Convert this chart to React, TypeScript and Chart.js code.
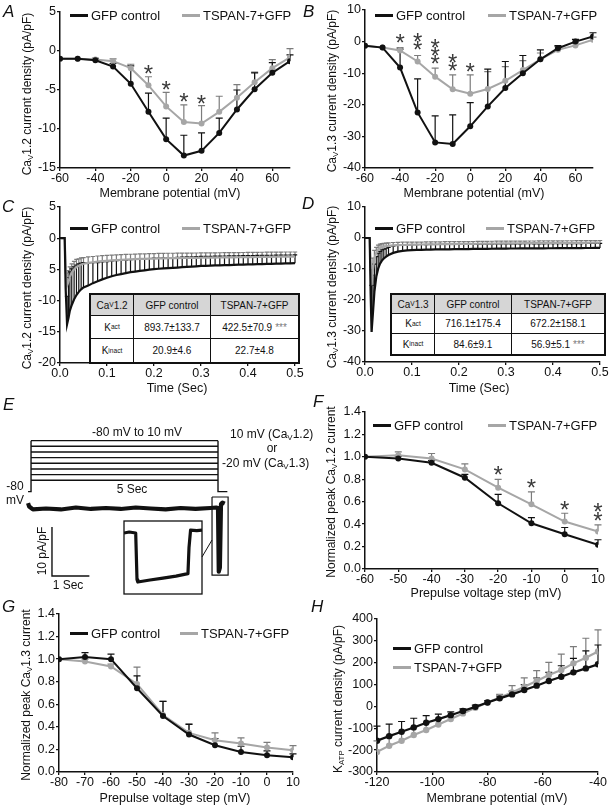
import React, { useEffect, useRef } from 'react';
import { Chart, registerables } from 'chart.js';

Chart.register(...registerables);

const FONT = '"Liberation Sans", Arial, Helvetica, sans-serif';
const INK = '#111111';
const GRAY = '#a6a6a6';
const GRAY_BAR = '#7c7c7c';
const STAR = '#3a3a3a';
const GFP_LABEL = 'GFP control';
const TSPAN_LABEL = 'TSPAN-7+GFP';

// ---------------- Panel A : CaV1.2 I-V ----------------
const A_MV = [-60, -50, -40, -30, -20, -10, 0, 10, 20, 30, 40, 50, 60, 70];
const A_GFP = [-1.0, -1.0, -1.2, -2.0, -4.2, -7.8, -11.3, -13.4, -12.8, -10.5, -7.5, -4.9, -2.8, -1.3];
const A_GFP_SEM = [0, 0, 0.2, 0.4, 2.3, 2.4, 2.7, 2.6, 2.3, 1.9, 2.5, 2.1, 1.3, 0.8];
const A_TSPAN = [-1.0, -1.0, -1.1, -1.3, -2.2, -4.4, -7.1, -9.1, -9.3, -7.8, -6.0, -4.0, -2.2, -0.8];
const A_TSPAN_SEM = [0, 0, 0.2, 0.3, 0.5, 1.1, 1.8, 2.2, 2.3, 2.0, 1.7, 1.3, 1.1, 1.1];
const A_X_TICKS = [-60, -40, -20, 0, 20, 40, 60];
const A_Y_TICKS = [5, 0, -5, -10, -15];
const A_STAR_MV = [-10, 0, 10, 20];
const A_STAR_Y = [-2.3, -4.4, -5.9, -6.2];
const A_STAR_N = [1, 1, 1, 1];

// ---------------- Panel B : CaV1.3 I-V ----------------
const B_MV = [-60, -50, -40, -30, -20, -10, 0, 10, 20, 30, 40, 50, 60, 70];
const B_GFP = [-1.3, -1.9, -8.2, -22.4, -31.9, -32.4, -26.8, -20.5, -14.7, -10.0, -5.6, -2.1, 0.0, 1.6];
const B_GFP_SEM = [0, 0, 5.8, 10.6, 8.4, 9.2, 7.5, 11.8, 8.4, 5.6, 3.0, 0.8, 0.7, 1.2];
const B_TSPAN = [-1.3, -1.9, -2.8, -6.3, -11.1, -15.1, -16.5, -15.0, -12.4, -9.0, -5.6, -2.6, -1.2, 0.6];
const B_TSPAN_SEM = [0, 0, 0.9, 1.9, 2.7, 4.6, 6.0, 5.5, 4.5, 3.0, 2.0, 1.0, 0.8, 0.8];
const B_X_TICKS = [-60, -40, -20, 0, 20, 40, 60];
const B_Y_TICKS = [10, 0, -10, -20, -30, -40];
const B_STAR_MV = [-40, -30, -20, -10, 0];
const B_STAR_Y = [1.05, -1.05, -5.6, -7.7, -7.9];
const B_STAR_N = [1, 2, 3, 2, 1];

// ---------------- Panel C : CaV1.2 current time course ----------------
const C_T = [0, 0.005, 0.01, 0.012, 0.015, 0.018, 0.021, 0.025, 0.03, 0.035, 0.04, 0.045, 0.05,
  0.06, 0.07, 0.08, 0.09, 0.1, 0.11, 0.12, 0.13, 0.14, 0.15, 0.16, 0.17, 0.18, 0.19, 0.2,
  0.21, 0.22, 0.23, 0.24, 0.25, 0.26, 0.27, 0.28, 0.29, 0.3, 0.31, 0.32, 0.33, 0.34, 0.35,
  0.36, 0.37, 0.38, 0.39, 0.4, 0.41, 0.42, 0.43, 0.44, 0.45, 0.46, 0.47, 0.48, 0.49, 0.5];
const C_GFP = [0, 0, 0, -8, -13.8, -12.8, -11.6, -10.7, -9.8, -9.1, -8.6, -8.2, -7.9,
  -7.6, -7.2, -6.9, -6.6, -6.35, -6.1, -5.9, -5.75, -5.6, -5.45, -5.35, -5.25, -5.15, -5.05, -4.95,
  -4.9, -4.85, -4.8, -4.75, -4.7, -4.65, -4.6, -4.55, -4.5, -4.45, -4.42, -4.4, -4.37, -4.35, -4.32,
  -4.3, -4.27, -4.25, -4.22, -4.2, -4.18, -4.16, -4.14, -4.12, -4.1, -4.08, -4.06, -4.04, -4.02, -4.0];
const C_GFP_SEM = [0, 0, 0, 0, 4.5, 6.5, 6.2, 5.8, 5.2, 4.8, 4.5, 4.2, 4.0,
  3.6, 3.3, 3.0, 2.8, 2.6, 2.45, 2.3, 2.2, 2.1, 2.0, 1.95, 1.9, 1.85, 1.8, 1.75,
  1.72, 1.7, 1.68, 1.66, 1.64, 1.62, 1.6, 1.58, 1.56, 1.54, 1.52, 1.5, 1.49, 1.48, 1.47,
  1.46, 1.45, 1.44, 1.43, 1.42, 1.41, 1.4, 1.39, 1.38, 1.37, 1.36, 1.35, 1.34, 1.33, 1.32];
const C_TSPAN = [0, 0, 0, -5, -7.6, -7.0, -6.2, -5.5, -5.0, -4.6, -4.4, -4.2, -4.1,
  -3.95, -3.85, -3.75, -3.68, -3.62, -3.56, -3.5, -3.46, -3.42, -3.38, -3.35, -3.32, -3.3, -3.28, -3.26,
  -3.24, -3.22, -3.2, -3.19, -3.18, -3.17, -3.16, -3.15, -3.14, -3.13, -3.12, -3.11, -3.1, -3.09, -3.08,
  -3.07, -3.06, -3.05, -3.04, -3.03, -3.02, -3.01, -3.0, -2.99, -2.98, -2.97, -2.96, -2.95, -2.95, -2.95];
const C_TSPAN_SEM = [0, 0, 0, 0, 2.0, 1.8, 1.6, 1.4, 1.3, 1.2, 1.1, 1.05, 1.0,
  0.95, 0.92, 0.9, 0.88, 0.86, 0.85, 0.84, 0.83, 0.82, 0.81, 0.8, 0.8, 0.8, 0.8, 0.8,
  0.8, 0.79, 0.79, 0.78, 0.78, 0.77, 0.77, 0.77, 0.77, 0.77, 0.76, 0.76, 0.76, 0.76, 0.76,
  0.75, 0.75, 0.75, 0.75, 0.75, 0.75, 0.75, 0.75, 0.75, 0.75, 0.74, 0.74, 0.74, 0.74, 0.74];
const C_X_TICKS = [0, 0.1, 0.2, 0.3, 0.4, 0.5];
const C_Y_TICKS = [5, 0, -5, -10, -15, -20];
const C_TABLE = [
  ['Ca|V|1.2', 'GFP control', 'TSPAN-7+GFP'],
  ['K|act|', '893.7±133.7', '422.5±70.9 ***'],
  ['K|inact|', '20.9±4.6', '22.7±4.8'],
];

// ---------------- Panel D : CaV1.3 current time course ----------------
const D_T = [0, 0.005, 0.01, 0.012, 0.014, 0.017, 0.02, 0.024, 0.028, 0.032, 0.036, 0.04, 0.045, 0.05,
  0.06, 0.07, 0.08, 0.09, 0.1, 0.11, 0.12, 0.13, 0.14, 0.15, 0.16, 0.17, 0.18, 0.19, 0.2,
  0.21, 0.22, 0.23, 0.24, 0.25, 0.26, 0.27, 0.28, 0.29, 0.3, 0.31, 0.32, 0.33, 0.34, 0.35,
  0.36, 0.37, 0.38, 0.39, 0.4, 0.41, 0.42, 0.43, 0.44, 0.45, 0.46, 0.47, 0.48, 0.49, 0.5];
const D_GFP = [0, 0, 0, -18, -30.3, -24, -17.4, -12.5, -9.9, -8.3, -7.3, -6.6, -6.0, -5.5,
  -4.8, -4.4, -4.15, -4.0, -3.9, -3.85, -3.8, -3.76, -3.72, -3.7, -3.68, -3.66, -3.64, -3.62, -3.6,
  -3.58, -3.56, -3.54, -3.52, -3.5, -3.48, -3.46, -3.44, -3.42, -3.4, -3.39, -3.38, -3.37, -3.36, -3.35,
  -3.34, -3.33, -3.32, -3.31, -3.3, -3.29, -3.28, -3.27, -3.26, -3.25, -3.24, -3.23, -3.22, -3.21, -3.2];
const D_GFP_SEM = [0, 0, 0, 0, 15, 12, 9, 6.5, 5, 4, 3.5, 3, 2.7, 2.5,
  2.2, 2.0, 1.9, 1.8, 1.75, 1.7, 1.7, 1.65, 1.65, 1.6, 1.6, 1.6, 1.55, 1.55, 1.55,
  1.5, 1.5, 1.5, 1.5, 1.5, 1.5, 1.5, 1.5, 1.5, 1.5, 1.5, 1.5, 1.5, 1.5, 1.5,
  1.45, 1.45, 1.45, 1.45, 1.45, 1.45, 1.45, 1.45, 1.45, 1.45, 1.45, 1.45, 1.45, 1.45, 1.45];
const D_TSPAN = [0, 0, 0, -10, -15.3, -10, -6.5, -4.8, -3.8, -3.3, -3.0, -2.8, -2.65, -2.55,
  -2.4, -2.3, -2.25, -2.2, -2.15, -2.12, -2.1, -2.08, -2.06, -2.04, -2.02, -2.0, -1.98, -1.96, -1.94,
  -1.92, -1.9, -1.88, -1.86, -1.84, -1.82, -1.8, -1.78, -1.76, -1.74, -1.72, -1.7, -1.69, -1.68, -1.67,
  -1.66, -1.65, -1.64, -1.63, -1.62, -1.61, -1.6, -1.59, -1.58, -1.57, -1.56, -1.55, -1.54, -1.52, -1.5];
const D_TSPAN_SEM = [0, 0, 0, 0, 5, 3.5, 2.5, 1.8, 1.5, 1.3, 1.2, 1.1, 1.0, 1.0,
  0.95, 0.9, 0.9, 0.85, 0.85, 0.8, 0.8, 0.8, 0.8, 0.8, 0.8, 0.8, 0.8, 0.8, 0.8,
  0.75, 0.75, 0.75, 0.75, 0.75, 0.75, 0.75, 0.75, 0.75, 0.75, 0.7, 0.7, 0.7, 0.7, 0.7,
  0.7, 0.7, 0.7, 0.7, 0.7, 0.7, 0.7, 0.7, 0.7, 0.7, 0.7, 0.7, 0.7, 0.7, 0.7];
const D_X_TICKS = [0, 0.1, 0.2, 0.3, 0.4, 0.5];
const D_Y_TICKS = [10, 0, -10, -20, -30, -40];
const D_TABLE = [
  ['Ca|V|1.3', 'GFP control', 'TSPAN-7+GFP'],
  ['K|act|', '716.1±175.4', '672.2±158.1'],
  ['K|inact|', '84.6±9.1', '56.9±5.1 ***'],
];

// ---------------- Panel E : protocol schematic ----------------
const E_PREPULSE_MV = [10, 0, -10, -20, -30, -40, -50, -60];
const E_HOLD_MV = -80;
const E_PREPULSE_S = 5;
const E_HOLD_LEAD_S = -0.08;
const E_TAIL_END_S = 5.25;
const E_TRACE_S = [-0.08, -0.05, 0.05, 0.4, 0.8, 1.2, 1.6, 2.0, 2.4, 2.8, 3.2, 3.6, 4.0, 4.4, 4.8, 4.95, 5.0, 5.02, 5.05, 5.08, 5.12, 5.18];
const E_TRACE_I = [1.0, 0.3, -0.3, -0.1, -0.3, 0.1, -0.2, 0.0, -0.2, 0.1, -0.1, -0.3, 0.0, -0.2, 0.0, 0.1, 0.0, -13.0, -12.2, 0.8, 1.1, 0.9];
const E_ZOOM_BOX_S = [4.84, 5.27];
const E_ZOOM_BOX_I = [2.24, -13.7];
const E_POINTER_S = [4.572, 4.84];
const E_POINTER_I = [-10.0, -6.53];
const E_SCALEBAR_S = [0.56, 0.56, 1.56];
const E_SCALEBAR_I = [-3.88, -13.88, -13.88];
const E_INSET_MS = [-50, -30, -5, 0, 3, 50, 100, 150, 196, 200, 206, 230, 250];
const E_INSET_I = [0, 0.2, 0, -9.5, -10, -9.6, -9.2, -8.8, -8.3, -3, 0.6, 0.5, 0.6];

// ---------------- Panel F : CaV1.2 inactivation ----------------
const F_MV = [-60, -50, -40, -30, -20, -10, 0, 10];
const F_GFP = [1.0, 0.985, 0.947, 0.814, 0.586, 0.408, 0.31, 0.216];
const F_GFP_SEM = [0, 0.02, 0.02, 0.03, 0.08, 0.05, 0.06, 0.045];
const F_TSPAN = [1.0, 1.015, 0.985, 0.888, 0.725, 0.577, 0.423, 0.334];
const F_TSPAN_SEM = [0, 0.03, 0.045, 0.05, 0.075, 0.11, 0.074, 0.06];
const F_X_TICKS = [-60, -50, -40, -30, -20, -10, 0, 10];
const F_Y_TICKS = [0, 0.2, 0.4, 0.6, 0.8, 1.0, 1.2, 1.4];
const F_STAR_MV = [-20, -10, 0, 10];
const F_STAR_Y = [0.882, 0.764, 0.571, 0.476];
const F_STAR_N = [1, 1, 1, 2];

// ---------------- Panel G : CaV1.3 inactivation ----------------
const G_MV = [-80, -70, -60, -50, -40, -30, -20, -10, 0, 10];
const G_GFP = [1.0, 1.018, 1.0, 0.742, 0.496, 0.332, 0.237, 0.178, 0.148, 0.131];
const G_GFP_SEM = [0, 0.04, 0.045, 0.11, 0.13, 0.09, 0.06, 0.05, 0.04, 0.03];
const G_TSPAN = [1.0, 0.98, 0.935, 0.78, 0.505, 0.347, 0.282, 0.252, 0.217, 0.193];
const G_TSPAN_SEM = [0, 0.02, 0.02, 0.15, 0.12, 0.08, 0.065, 0.05, 0.045, 0.04];
const G_X_TICKS = [-80, -70, -60, -50, -40, -30, -20, -10, 0, 10];
const G_Y_TICKS = [0, 0.2, 0.4, 0.6, 0.8, 1.0, 1.2, 1.4];

// ---------------- Panel H : KATP I-V ----------------
const H_MV = [-120, -115.6, -111.1, -106.7, -102.2, -97.8, -93.3, -88.9, -84.4, -80, -75.6, -71.1, -66.7, -62.2, -57.8, -53.3, -48.9, -44.4, -40];
const H_GFP = [-157, -136, -116, -96, -75, -58, -40, -21, -2, 18, 37, 55, 75, 95, 116, 136, 156, 174, 193];
const H_GFP_SEM = [67, 55, 47, 42, 33, 23, 15, 10, 8, 8, 10, 15, 25, 35, 40, 50, 64, 80, 88];
const H_TSPAN = [-208, -180, -157, -131, -108, -83, -58, -32, -6, 18, 41, 64, 90, 116, 144, 167, 197, 223, 251];
const H_TSPAN_SEM = [50, 45, 40, 35, 30, 25, 18, 12, 8, 8, 14, 31, 41, 48, 58, 72, 77, 89, 99];
const H_X_TICKS = [-120, -100, -80, -60, -40];
const H_Y_TICKS = [-300, -200, -100, 0, 100, 200, 300, 400];

// ---------------- helpers ----------------
const fmtInt = (v: number) => String(Math.round(v));
const fmt1 = (v: number) => v.toFixed(1);
const fmtC = (v: number) => (Math.round(v) === -5 ? '5' : String(Math.round(v)));

type Series = { x: number[]; y: number[]; err: number[]; color: string; bar: string; radius: number; width: number };
type Spec = {
  area: { l: number; r: number; t: number; b: number };
  x: { min: number; max: number; ticks: number[]; fmt: (v: number) => string };
  y: { min: number; max: number; ticks: number[]; fmt: (v: number) => string };
  series: Series[];
  stars?: { x: number[]; y: number[]; n: number[] };
  cap: number;
};

const M = { l: 46, t: 12, r: 16, b: 22 };

function pair(gx: number[], gy: number[], gErr: number[], tx: number[], ty: number[], tErr: number[], radius: number, width: number): Series[] {
  return [
    { x: gx, y: gy, err: gErr, color: INK, bar: INK, radius, width },
    { x: tx, y: ty, err: tErr, color: GRAY, bar: GRAY_BAR, radius, width },
  ];
}

function XYChart({ spec }: { spec: Spec }) {
  const ref = useRef<HTMLCanvasElement | null>(null);
  const W = spec.area.r - spec.area.l + M.l + M.r;
  const H = spec.area.b - spec.area.t + M.t + M.b;
  useEffect(() => {
    const canvas = ref.current;
    if (!canvas) return;
    const tickFont = { family: FONT, size: 12.5 };
    const axis = (a: Spec['x'], isX: boolean) => ({
      type: 'linear',
      min: a.min,
      max: a.max,
      afterBuildTicks: (s: any) => { s.ticks = a.ticks.map((v) => ({ value: v })); },
      ticks: {
        callback: (v: any) => a.fmt(Number(v)),
        font: tickFont,
        color: INK,
        padding: isX ? 0 : 1,
        autoSkip: false,
        maxRotation: 0,
        minRotation: 0,
      },
      grid: { drawOnChartArea: false, drawTicks: true, tickLength: 3, color: INK, lineWidth: 1.3 },
      border: { display: true, color: INK, width: 1.5 },
      afterFit: (s: any) => { if (isX) s.height = M.b; else s.width = M.l; },
    });
    const errPlugin = {
      id: 'errbars',
      beforeDatasetsDraw(chart: any) {
        const { ctx } = chart;
        const xs = chart.scales.x;
        const ys = chart.scales.y;
        ctx.save();
        ctx.lineWidth = 1.2;
        spec.series.slice().reverse().forEach((s) => {
          ctx.strokeStyle = s.bar;
          s.x.forEach((xv, i) => {
            const e = s.err[i];
            if (!e) return;
            const px = xs.getPixelForValue(xv);
            const p0 = ys.getPixelForValue(s.y[i]);
            const p1 = ys.getPixelForValue(s.y[i] + e);
            ctx.beginPath();
            ctx.moveTo(px, p0);
            ctx.lineTo(px, p1);
            ctx.moveTo(px - spec.cap, p1);
            ctx.lineTo(px + spec.cap, p1);
            ctx.stroke();
          });
        });
        ctx.restore();
      },
    };
    const starPlugin = {
      id: 'stars',
      afterDatasetsDraw(chart: any) {
        if (!spec.stars) return;
        const { ctx } = chart;
        const xs = chart.scales.x;
        const ys = chart.scales.y;
        ctx.save();
        ctx.fillStyle = STAR;
        ctx.font = `24px ${FONT}`;
        ctx.textAlign = 'center';
        ctx.textBaseline = 'alphabetic';
        spec.stars.x.forEach((xv, i) => {
          const px = xs.getPixelForValue(xv);
          const py = ys.getPixelForValue(spec.stars!.y[i]);
          for (let k = 0; k < spec.stars!.n[i]; k++) {
            ctx.fillText('*', px, py - k * 8.3 + 13);
          }
        });
        ctx.restore();
      },
    };
    const chart = new Chart(canvas, {
      type: 'line',
      data: {
        datasets: spec.series.map((s) => ({
          data: s.x.map((xv, i) => ({ x: xv, y: s.y[i] })),
          borderColor: s.color,
          backgroundColor: s.color,
          borderWidth: s.width,
          pointRadius: s.radius,
          pointHoverRadius: s.radius,
          pointBackgroundColor: s.color,
          pointBorderWidth: 0,
          tension: 0,
          fill: false,
        })),
      },
      options: {
        responsive: false,
        animation: false,
        devicePixelRatio: 1,
        events: [],
        layout: { padding: { left: 0, top: M.t, right: M.r, bottom: 0 } },
        plugins: { legend: { display: false }, tooltip: { enabled: false } },
        scales: { x: axis(spec.x, true) as any, y: axis(spec.y, false) as any },
      },
      plugins: [errPlugin, starPlugin],
    });
    return () => chart.destroy();
  }, [spec]);
  return (
    <canvas
      ref={ref}
      width={W}
      height={H}
      style={{ position: 'absolute', left: spec.area.l - M.l, top: spec.area.t - M.t, width: W, height: H }}
    />
  );
}

function EMainChart() {
  const ref = useRef<HTMLCanvasElement | null>(null);
  useEffect(() => {
    const canvas = ref.current;
    if (!canvas) return;
    const proto: any[] = [];
    E_PREPULSE_MV.forEach((v) => {
      proto.push({ x: 0, y: v }, { x: E_PREPULSE_S, y: v }, { x: E_PREPULSE_S, y: null });
    });
    proto.push({ x: E_HOLD_LEAD_S, y: E_HOLD_MV }, { x: 0, y: E_HOLD_MV }, { x: 0, y: E_PREPULSE_MV[0] }, { x: 0, y: null });
    proto.push({ x: E_PREPULSE_S, y: E_PREPULSE_MV[0] }, { x: E_PREPULSE_S, y: E_HOLD_MV }, { x: E_TAIL_END_S, y: E_HOLD_MV });
    const trace = E_TRACE_S.map((t, i) => ({ x: t, y: E_TRACE_I[i] }));
    const box = [
      { x: E_ZOOM_BOX_S[0], y: E_ZOOM_BOX_I[0] },
      { x: E_ZOOM_BOX_S[1], y: E_ZOOM_BOX_I[0] },
      { x: E_ZOOM_BOX_S[1], y: E_ZOOM_BOX_I[1] },
      { x: E_ZOOM_BOX_S[0], y: E_ZOOM_BOX_I[1] },
      { x: E_ZOOM_BOX_S[0], y: E_ZOOM_BOX_I[0] },
    ];
    const pointer = E_POINTER_S.map((t, i) => ({ x: t, y: E_POINTER_I[i] }));
    const bar = E_SCALEBAR_S.map((t, i) => ({ x: t, y: E_SCALEBAR_I[i] }));
    const thin = (data: any[], axisId: string, w: number) => ({
      data,
      yAxisID: axisId,
      borderColor: INK,
      borderWidth: w,
      pointRadius: 0,
      tension: 0,
      fill: false,
      spanGaps: false,
      borderJoinStyle: 'miter',
    });
    const chart = new Chart(canvas, {
      type: 'line',
      data: {
        datasets: [
          thin(proto, 'yv', 1.4),
          { ...thin(trace, 'yi', 4.2), borderJoinStyle: 'round' },
          thin(box, 'yi', 1.2),
          thin(pointer, 'yi', 1.0),
          thin(bar, 'yi', 1.4),
        ] as any,
      },
      options: {
        responsive: false,
        animation: false,
        devicePixelRatio: 1,
        events: [],
        layout: { padding: 0 },
        plugins: { legend: { display: false }, tooltip: { enabled: false } },
        scales: {
          x: { type: 'linear', display: false, min: -0.83, max: 7.46 },
          yv: { type: 'linear', display: false, min: -280, max: 81.7 },
          yi: { type: 'linear', display: false, min: -19.8, max: 22.04 },
        } as any,
      },
    });
    return () => chart.destroy();
  }, []);
  return <canvas ref={ref} width={310} height={205} style={{ position: 'absolute', left: 0, top: 400, width: 310, height: 205 }} />;
}

function EInsetChart() {
  const ref = useRef<HTMLCanvasElement | null>(null);
  useEffect(() => {
    const canvas = ref.current;
    if (!canvas) return;
    const framePlugin = {
      id: 'frame',
      afterDraw(chart: any) {
        const { ctx, chartArea: a } = chart;
        ctx.save();
        ctx.strokeStyle = INK;
        ctx.lineWidth = 1.3;
        ctx.strokeRect(a.left, a.top, a.right - a.left, a.bottom - a.top);
        ctx.restore();
      },
    };
    const chart = new Chart(canvas, {
      type: 'line',
      data: {
        datasets: [{
          data: E_INSET_MS.map((t, i) => ({ x: t, y: E_INSET_I[i] })),
          borderColor: INK,
          borderWidth: 3.2,
          pointRadius: 0,
          tension: 0,
          fill: false,
          borderJoinStyle: 'round',
        }] as any,
      },
      options: {
        responsive: false,
        animation: false,
        devicePixelRatio: 1,
        events: [],
        layout: { padding: 3 },
        plugins: { legend: { display: false }, tooltip: { enabled: false } },
        scales: {
          x: { type: 'linear', display: false, min: -50, max: 250 },
          y: { type: 'linear', display: false, min: -12.45, max: 2.45 },
        } as any,
      },
      plugins: [framePlugin],
    });
    return () => chart.destroy();
  }, []);
  return <canvas ref={ref} width={84} height={79} style={{ position: 'absolute', left: 121, top: 518, width: 84, height: 79 }} />;
}

// ---------------- text helpers ----------------
const Sub = ({ c }: { c: string }) => (
  <sub style={{ fontSize: '0.66em', verticalAlign: '-0.3em', lineHeight: 0 }}>{c}</sub>
);

function rich(s: string) {
  // "Ca|V|1.2" -> Ca<sub>V</sub>1.2
  const parts = s.split('|');
  return parts.map((p, i) => (i % 2 === 1 ? <Sub key={i} c={p} /> : <React.Fragment key={i}>{p}</React.Fragment>));
}

function Txt({ x, y, children, align = 'center', size = 12.5, rotate = false, italic = false, color = INK }: any) {
  const tx = align === 'center' ? '-50%' : align === 'right' ? '-100%' : '0';
  return (
    <div
      style={{
        position: 'absolute',
        left: x,
        top: y,
        whiteSpace: 'nowrap',
        fontSize: size,
        lineHeight: 1,
        fontStyle: italic ? 'italic' : 'normal',
        color,
        transform: rotate ? 'translate(-50%,-50%) rotate(-90deg)' : `translate(${tx},-50%)`,
      }}
    >
      {children}
    </div>
  );
}

function Legend({ items }: { items: { x: number; y: number; color: string; text: string }[] }) {
  return (
    <>
      {items.map((it, i) => (
        <React.Fragment key={i}>
          <div style={{ position: 'absolute', left: it.x, top: it.y - 1.5, width: 18, height: 3, background: it.color }} />
          <Txt x={it.x + 21} y={it.y} align="left" size={13}>{it.text}</Txt>
        </React.Fragment>
      ))}
    </>
  );
}

function ParamTable({ x, y, cols, rows, cells }: { x: number; y: number; cols: number[]; rows: number[]; cells: string[][] }) {
  return (
    <div
      style={{
        position: 'absolute',
        left: x,
        top: y,
        display: 'grid',
        gridTemplateColumns: cols.map((c) => `${c}px`).join(' '),
        gridTemplateRows: rows.map((r) => `${r}px`).join(' '),
        border: `2px solid ${INK}`,
        background: '#fff',
        fontSize: 10,
        boxSizing: 'content-box',
        color: INK,
      }}
    >
      {cells.map((row, ri) =>
        row.map((cell, ci) => {
          const stars = cell.endsWith(' ***');
          const main = stars ? cell.slice(0, -4) : cell;
          return (
            <div
              key={`${ri}-${ci}`}
              style={{
                boxSizing: 'border-box',
                borderRight: ci < row.length - 1 ? `1.5px solid ${INK}` : 'none',
                borderBottom: ri < cells.length - 1 ? `1.5px solid ${INK}` : 'none',
                background: ri === 0 ? '#d6d6d6' : '#fff',
                display: 'flex',
                alignItems: 'center',
                justifyContent: 'center',
                whiteSpace: 'nowrap',
              }}
            >
              {rich(main)}
              {stars ? <span style={{ color: '#7a7a7a', marginLeft: 3 }}>***</span> : null}
            </div>
          );
        })
      )}
    </div>
  );
}

// ---------------- specs ----------------
const SPEC_A: Spec = {
  area: { l: 60, r: 290, t: 12, b: 168 },
  x: { min: -60, max: 70, ticks: A_X_TICKS, fmt: fmtInt },
  y: { min: -15, max: 5, ticks: A_Y_TICKS, fmt: fmtInt },
  series: pair(A_MV, A_GFP, A_GFP_SEM, A_MV, A_TSPAN, A_TSPAN_SEM, 3, 2),
  stars: { x: A_STAR_MV, y: A_STAR_Y, n: A_STAR_N },
  cap: 3.5,
};
const SPEC_B: Spec = {
  area: { l: 365, r: 593, t: 10, b: 168 },
  x: { min: -60, max: 70, ticks: B_X_TICKS, fmt: fmtInt },
  y: { min: -40, max: 10, ticks: B_Y_TICKS, fmt: fmtInt },
  series: pair(B_MV, B_GFP, B_GFP_SEM, B_MV, B_TSPAN, B_TSPAN_SEM, 3, 2),
  stars: { x: B_STAR_MV, y: B_STAR_Y, n: B_STAR_N },
  cap: 3.5,
};
const SPEC_C: Spec = {
  area: { l: 60, r: 295, t: 207, b: 363 },
  x: { min: 0, max: 0.5, ticks: C_X_TICKS, fmt: fmt1 },
  y: { min: -20, max: 5, ticks: C_Y_TICKS, fmt: fmtC },
  series: pair(C_T, C_GFP, C_GFP_SEM, C_T, C_TSPAN, C_TSPAN_SEM, 0, 2.2),
  cap: 2.2,
};
const SPEC_D: Spec = {
  area: { l: 365, r: 600, t: 207, b: 362 },
  x: { min: 0, max: 0.5, ticks: D_X_TICKS, fmt: fmt1 },
  y: { min: -40, max: 10, ticks: D_Y_TICKS, fmt: fmtInt },
  series: pair(D_T, D_GFP, D_GFP_SEM, D_T, D_TSPAN, D_TSPAN_SEM, 0, 2.2),
  cap: 2.2,
};
const SPEC_F: Spec = {
  area: { l: 365, r: 598, t: 412, b: 569 },
  x: { min: -60, max: 10, ticks: F_X_TICKS, fmt: fmtInt },
  y: { min: 0, max: 1.4, ticks: F_Y_TICKS, fmt: fmt1 },
  series: pair(F_MV, F_GFP, F_GFP_SEM, F_MV, F_TSPAN, F_TSPAN_SEM, 3, 2),
  stars: { x: F_STAR_MV, y: F_STAR_Y, n: F_STAR_N },
  cap: 3.5,
};
const SPEC_G: Spec = {
  area: { l: 59, r: 293, t: 614, b: 772 },
  x: { min: -80, max: 10, ticks: G_X_TICKS, fmt: fmtInt },
  y: { min: 0, max: 1.4, ticks: G_Y_TICKS, fmt: fmt1 },
  series: pair(G_MV, G_GFP, G_GFP_SEM, G_MV, G_TSPAN, G_TSPAN_SEM, 3, 2),
  cap: 3.5,
};
const SPEC_H: Spec = {
  area: { l: 377, r: 598, t: 619, b: 772 },
  x: { min: -120, max: -40, ticks: H_X_TICKS, fmt: fmtInt },
  y: { min: -300, max: 400, ticks: H_Y_TICKS, fmt: fmtInt },
  series: pair(H_MV, H_GFP, H_GFP_SEM, H_MV, H_TSPAN, H_TSPAN_SEM, 3.2, 2.2),
  cap: 3.5,
};

const legendPair = (bx: number, gx: number, y: number, gy?: number) => [
  { x: bx, y, color: INK, text: GFP_LABEL },
  { x: gx, y: gy === undefined ? y : gy, color: GRAY, text: TSPAN_LABEL },
];

export default function App() {
  return (
    <div
      style={{
        position: 'fixed',
        left: 0,
        top: 0,
        width: 613,
        height: 809,
        overflow: 'hidden',
        background: '#fff',
        fontFamily: FONT,
        color: INK,
      }}
    >
      <XYChart spec={SPEC_A} />
      <XYChart spec={SPEC_B} />
      <XYChart spec={SPEC_C} />
      <XYChart spec={SPEC_D} />
      <EMainChart />
      <EInsetChart />
      <XYChart spec={SPEC_F} />
      <XYChart spec={SPEC_G} />
      <XYChart spec={SPEC_H} />

      {/* tables */}
      <ParamTable x={89} y={293} cols={[43, 77, 87]} rows={[21, 23, 23]} cells={C_TABLE} />
      <ParamTable x={390} y={293} cols={[43, 77, 92]} rows={[19, 20, 20]} cells={D_TABLE} />

      {/* legends */}
      <Legend items={legendPair(70, 182, 15)} />
      <Legend items={legendPair(375, 488, 15)} />
      <Legend items={legendPair(70, 182, 228)} />
      <Legend items={legendPair(375, 486, 228)} />
      <Legend items={legendPair(373, 488, 425)} />
      <Legend items={legendPair(70, 180, 633)} />
      <Legend items={legendPair(393, 393, 648, 667)} />

      {/* panel letters */}
      <Txt x={3} y={11} align="left" size={17} italic>A</Txt>
      <Txt x={303} y={11} align="left" size={17} italic>B</Txt>
      <Txt x={2} y={206} align="left" size={17} italic>C</Txt>
      <Txt x={302} y={203} align="left" size={17} italic>D</Txt>
      <Txt x={3} y={404} align="left" size={17} italic>E</Txt>
      <Txt x={313} y={401} align="left" size={17} italic>F</Txt>
      <Txt x={2} y={606} align="left" size={17} italic>G</Txt>
      <Txt x={311} y={606} align="left" size={17} italic>H</Txt>

      {/* y titles */}
      <Txt x={27} y={94} rotate size={12}>{rich('Ca|V|1.2 current density (pA/pF)')}</Txt>
      <Txt x={332} y={91} rotate size={12}>{rich('Ca|V|1.3 current density (pA/pF)')}</Txt>
      <Txt x={27} y={288} rotate size={12}>{rich('Ca|V|1.2 current density (pA/pF)')}</Txt>
      <Txt x={332} y={287} rotate size={12}>{rich('Ca|V|1.3 current density (pA/pF)')}</Txt>
      <Txt x={331} y={492} rotate size={12}>{rich('Normalized peak Ca|V|1.2 current')}</Txt>
      <Txt x={26} y={695} rotate size={12}>{rich('Normalized peak Ca|V|1.3 current')}</Txt>
      <Txt x={338} y={699} rotate size={12}>{rich('K|ATP| current density (pA/pF)')}</Txt>

      {/* x titles */}
      <Txt x={170} y={193}>Membrane potential (mV)</Txt>
      <Txt x={474} y={193}>Membrane potential (mV)</Txt>
      <Txt x={177} y={388}>Time (Sec)</Txt>
      <Txt x={479} y={388}>Time (Sec)</Txt>
      <Txt x={486} y={593}>Prepulse voltage step (mV)</Txt>
      <Txt x={175} y={798}>Prepulse voltage step (mV)</Txt>
      <Txt x={497} y={798}>Membrane potential (mV)</Txt>

      {/* panel E labels */}
      <Txt x={137} y={432} size={12}>-80 mV to 10 mV</Txt>
      <Txt x={132} y={489} size={12}>5 Sec</Txt>
      <Txt x={15} y={486} size={12}>-80</Txt>
      <Txt x={15} y={500} size={12}>mV</Txt>
      <Txt x={230} y={434} align="left" size={12}>{rich('10 mV (Ca|V|1.2)')}</Txt>
      <Txt x={272} y={448} size={12}>or</Txt>
      <Txt x={222} y={463} align="left" size={12}>{rich('-20 mV (Ca|V|1.3)')}</Txt>
      <Txt x={42} y={551} rotate size={12}>10 pA/pF</Txt>
      <Txt x={68} y={585} size={12}>1 Sec</Txt>
    </div>
  );
}
